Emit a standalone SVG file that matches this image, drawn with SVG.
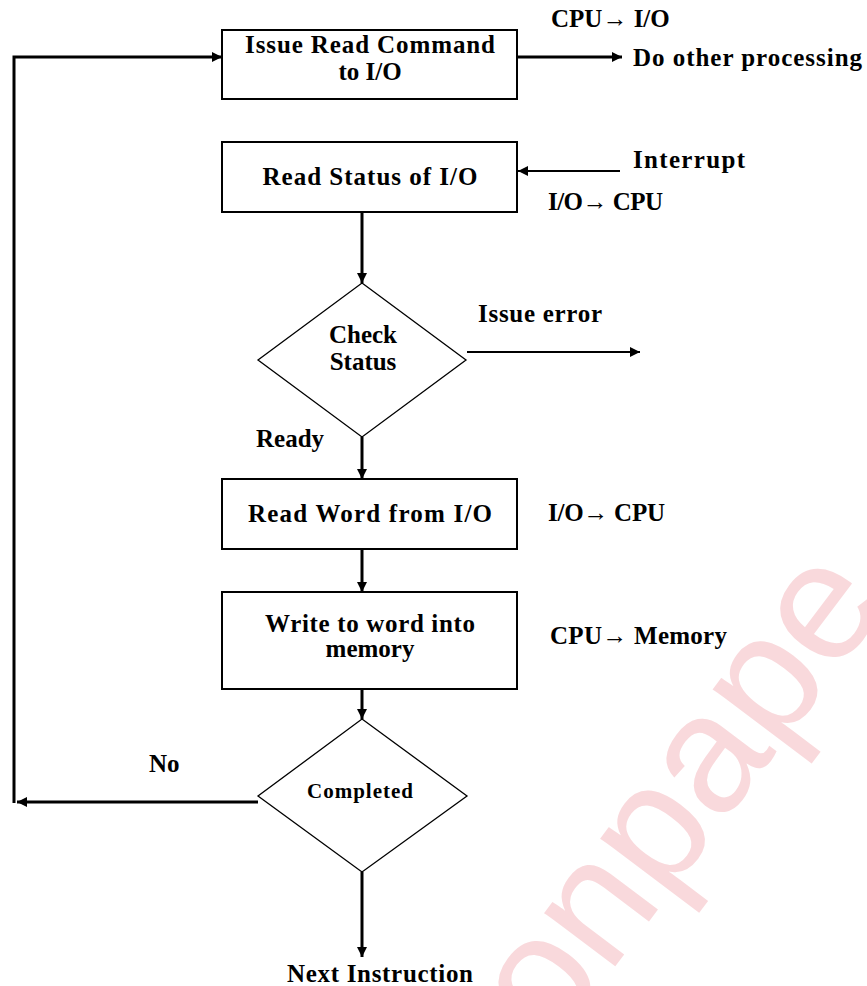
<svg xmlns="http://www.w3.org/2000/svg" width="867" height="986" viewBox="0 0 867 986">
<defs>
<style>
text{font-family:"Liberation Serif","Times New Roman",serif;font-weight:bold;fill:#000}
.t{font-size:25px}
.c{text-anchor:middle}
.box{fill:#fff;stroke:#000;stroke-width:2}
.dia{fill:#fff;stroke:#000;stroke-width:1.3}
.ln{fill:none;stroke:#000;stroke-width:3}
.thin{fill:none;stroke:#000;stroke-width:2}
.wm{font-family:"Liberation Sans",Arial,sans-serif;font-weight:normal;font-size:168px;fill:#f9d9dc}
</style>
<marker id="ah" viewBox="0 0 10 10" refX="10" refY="5" markerWidth="11" markerHeight="10" markerUnits="userSpaceOnUse" orient="auto">
<path d="M0,0 L10,5 L0,10 z" fill="#000"/>
</marker>
</defs>
<rect width="867" height="986" fill="#fff"/>
<g id="watermark">
<text class="wm" transform="translate(552,1050) rotate(-53)">onpape</text>
</g>
<g id="connectors">
<line class="ln" x1="517" y1="57" x2="622" y2="57" marker-end="url(#ah)"/>
<line class="thin" x1="620" y1="171" x2="518" y2="171" marker-end="url(#ah)"/>
<line class="ln" x1="362" y1="212" x2="362" y2="283" marker-end="url(#ah)"/>
<line class="thin" x1="467" y1="352" x2="640" y2="352" marker-end="url(#ah)"/>
<line class="ln" x1="362" y1="437" x2="362" y2="479" marker-end="url(#ah)"/>
<line class="ln" x1="362" y1="549" x2="362" y2="592" marker-end="url(#ah)"/>
<line class="ln" x1="362" y1="689" x2="362" y2="719" marker-end="url(#ah)"/>
<line class="ln" x1="258" y1="802" x2="17" y2="802" marker-end="url(#ah)"/>
<polyline class="ln" points="14,803 14,57 222,57" marker-end="url(#ah)"/>
<line class="ln" x1="362" y1="872" x2="362" y2="957" marker-end="url(#ah)"/>
</g>
<g id="n1">
<rect class="box" x="222" y="30" width="295" height="69"/>
<text class="t c" x="370" y="53" textLength="250" lengthAdjust="spacing">Issue Read Command</text>
<text class="t c" x="370" y="80">to I/O</text>
</g>
<g id="n2">
<rect class="box" x="222" y="142" width="295" height="70"/>
<text class="t c" x="370" y="185" textLength="215" lengthAdjust="spacing">Read Status of I/O</text>
</g>
<g id="n3">
<polygon class="dia" points="362,283 466,360 362,437 258,360"/>
<text class="t c" x="363" y="343">Check</text>
<text class="t c" x="363" y="370">Status</text>
</g>
<g id="n4">
<rect class="box" x="222" y="479" width="295" height="70"/>
<text class="t c" x="370" y="522" textLength="244" lengthAdjust="spacing">Read Word from I/O</text>
</g>
<g id="n5">
<rect class="box" x="222" y="592" width="295" height="97"/>
<text class="t c" x="370" y="632" textLength="210" lengthAdjust="spacing">Write to word into</text>
<text class="t c" x="370" y="657">memory</text>
</g>
<g id="n6">
<polygon class="dia" points="362,719 467,796 362,872 258,796"/>
<text class="c" x="360" y="798" font-size="21" textLength="106" lengthAdjust="spacing">Completed</text>
</g>
<g id="labels">
<text class="t" x="551" y="27">CPU→ I/O</text>
<text class="t" x="633" y="66" textLength="229" lengthAdjust="spacing">Do other processing</text>
<text class="t" x="633" y="168" textLength="112" lengthAdjust="spacing">Interrupt</text>
<text class="t" x="548" y="210" textLength="115" lengthAdjust="spacing">I/O→ CPU</text>
<text class="t" x="478" y="322" textLength="124" lengthAdjust="spacing">Issue error</text>
<text class="t" x="256" y="447">Ready</text>
<text class="t" x="548" y="521" textLength="117" lengthAdjust="spacing">I/O→ CPU</text>
<text class="t" x="550" y="644" textLength="177" lengthAdjust="spacing">CPU→ Memory</text>
<text class="t" x="149" y="772">No</text>
<text class="t" x="287" y="982" textLength="186" lengthAdjust="spacing">Next Instruction</text>
</g>
</svg>
